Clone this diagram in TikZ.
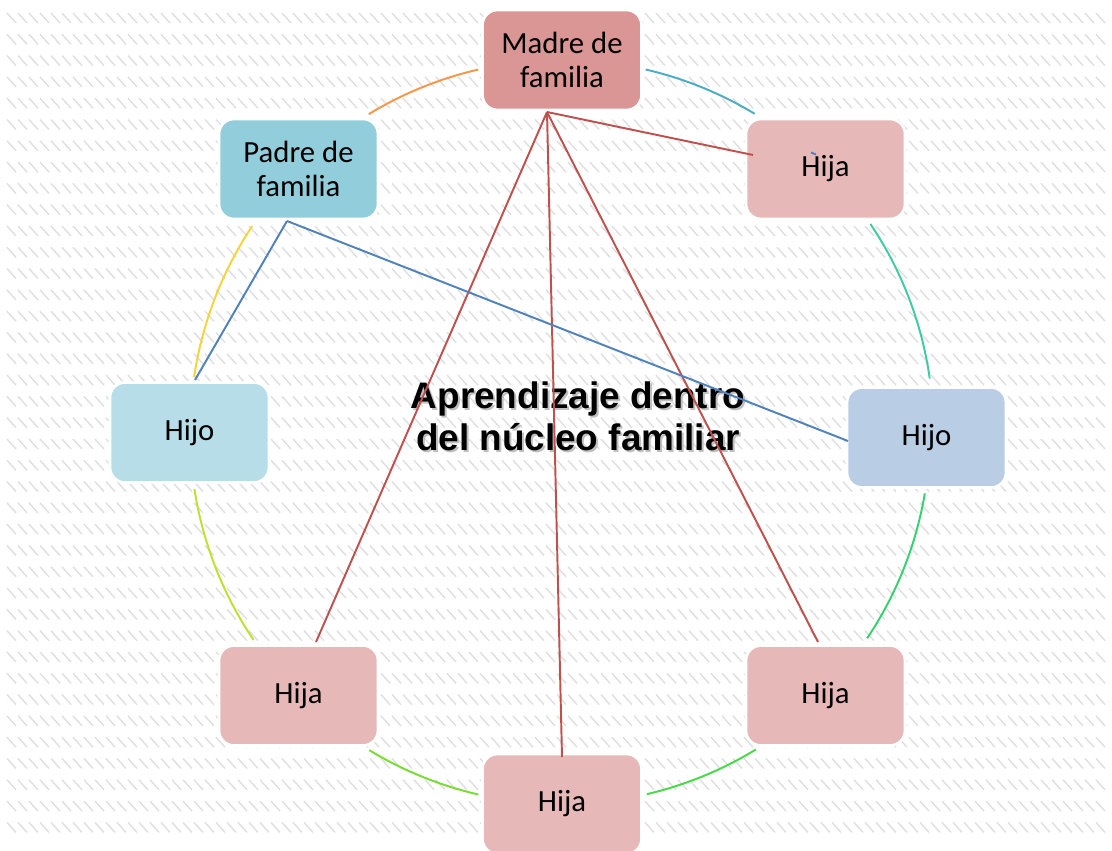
\documentclass[tikz,border=0pt]{standalone}
\usepackage{fontspec}
\setmainfont{Carlito}
\newfontfamily\titlefont{Liberation Sans}
\usetikzlibrary{shapes}

\definecolor{madre}{HTML}{D99694}
\definecolor{padre}{HTML}{92CDDC}
\definecolor{hija}{HTML}{E6B9B8}
\definecolor{hijoL}{HTML}{B7DEE8}
\definecolor{hijoR}{HTML}{B9CDE5}
\definecolor{rojo}{HTML}{C0504D}
\definecolor{azul}{HTML}{4F81BD}

\begin{document}
\begin{tikzpicture}[x=0.02cm, y=-0.02cm,
    box/.style={draw=white, line width=1.5pt, rounded corners=0.3cm, minimum width=3.18cm,
        minimum height=2cm, inner sep=0pt, align=center, font=\fontsize{17.5}{19}\selectfont},
    ring/.style={line width=1.1pt},
    link/.style={line width=1.1pt},
    hatch/.style={gray!25, line width=0.8pt}]

    \useasboundingbox[fill=white] (0,0) rectangle (1112,851);
    \draw[hatch] \foreach \r in {0,...,38}{\foreach \c in {0,...,99}{(7+11*\c, 13+21.3*\r) -- ++(9,10)}};

    \coordinate (C) at (562,432);

    % ring between the members
    \draw[ring, color={rgb,255:red,247;green,150;blue,70}] ([shift={(238.7:372)}]C) arc[start angle=238.7, end angle=257, radius=372];
    \draw[ring, color={rgb,255:red,75;green,172;blue,198}] ([shift={(283:372)}]C) arc[start angle=283, end angle=301.2, radius=372];
    \draw[ring, color={rgb,255:red,60;green,204;blue,160}] ([shift={(326:372)}]C) arc[start angle=326, end angle=352, radius=368];
    \draw[ring, color={rgb,255:red,52;green,210;blue,110}] ([shift={(9.6:368)}]C) arc[start angle=9.6, end angle=33.8, radius=372];
    \draw[ring, color={rgb,255:red,70;green,218;blue,70}] ([shift={(58.6:372)}]C) arc[start angle=58.6, end angle=76.8, radius=372];
    \draw[ring, color={rgb,255:red,120;green,220;blue,50}] ([shift={(103:372)}]C) arc[start angle=103, end angle=121.2, radius=372];
    \draw[ring, color={rgb,255:red,190;green,224;blue,46}] ([shift={(146:372)}]C) arc[start angle=146, end angle=171.2, radius=372];
    \draw[ring, color={rgb,255:red,245;green,212;blue,58}] ([shift={(188.5:372)}]C) arc[start angle=188.5, end angle=213.6, radius=372];

    \node(Ts)[text=gray!50, align=center, font=\titlefont\bfseries\fontsize{21}{24}\selectfont] at (580,418) {Aprendizaje dentro\\del núcleo familiar};
    \node(T)[align=center, font=\titlefont\bfseries\fontsize{21}{24}\selectfont] at (578,416) {Aprendizaje dentro\\del núcleo familiar};

    \node(M)[box, fill=madre] at (562,60) {Madre de\\familia};
    \node(P)[box, fill=padre] at (298.5,169) {Padre de\\familia};
    \node(H1)[box, fill=hija] at (825.5,169) {Hija};
    \node(O1)[box, fill=hijoL] at (189.5,432.5) {Hijo};
    \node(O2)[box, fill=hijoR] at (926.5,437.5) {Hijo};
    \node(H2)[box, fill=hija] at (298.5,695.5) {Hija};
    \node(H3)[box, fill=hija] at (825.5,695.5) {Hija};
    \node(H4)[box, fill=hija] at (562,804) {Hija};

    \coordinate (m0) at (547,112);
    \coordinate (h1) at (753,155);
    \coordinate (h2) at (316,642);
    \coordinate (h3) at (818,642);
    \coordinate (h4) at (562,757);
    \coordinate (p0) at (287,221);
    \coordinate (o1) at (195,380);
    \coordinate (o2) at (848,441);

    \draw[link, rojo] (m0) -- (h1);
    \draw[link, rojo] (m0) -- (h2);
    \draw[link, rojo] (m0) -- (h4);
    \draw[link, rojo] (m0) -- (h3);
    \draw[link, azul] (p0) -- (o1);
    \draw[link, azul] (p0) -- (o2);
    \draw[link, azul] (811,152.5) -- (816,154.5);

\end{tikzpicture}
\end{document}
